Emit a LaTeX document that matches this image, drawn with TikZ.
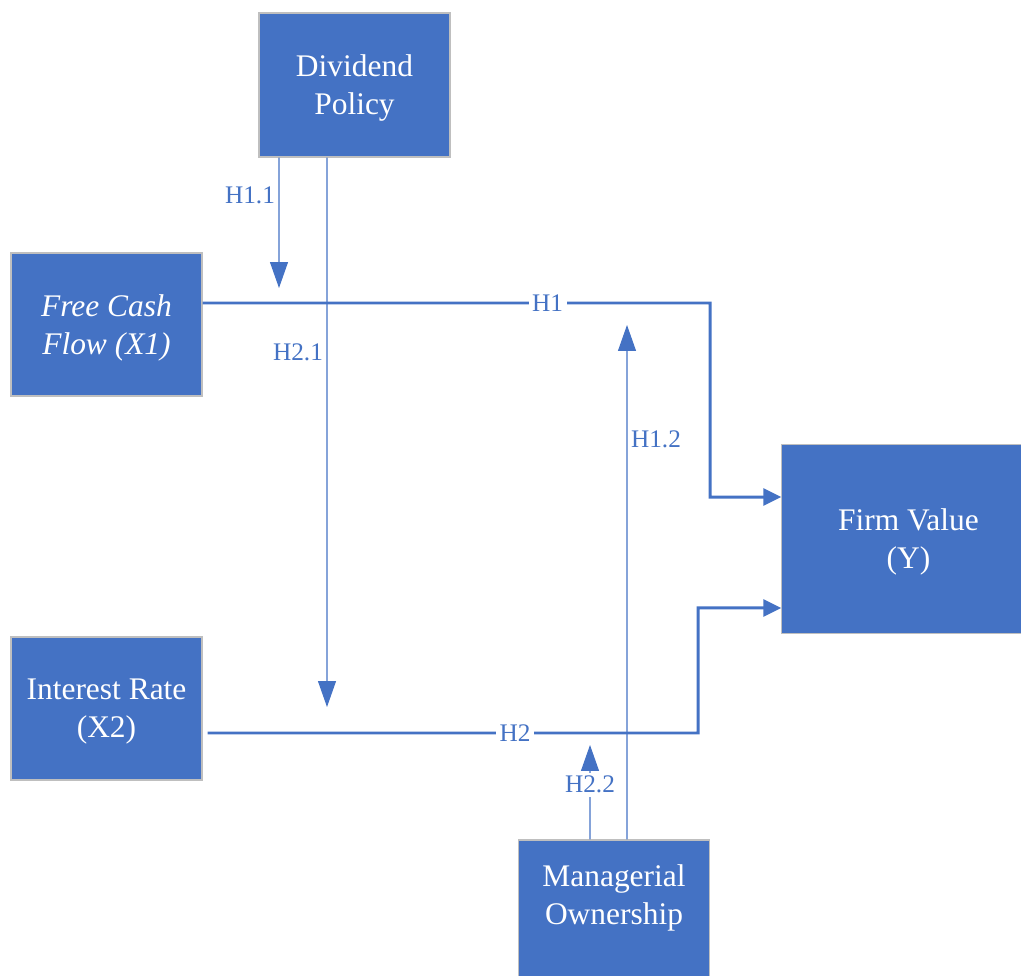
\documentclass[tikz,border=0pt]{standalone}
\usepackage{fontspec}
\setmainfont{Liberation Serif}
\usetikzlibrary{arrows.meta, positioning}
\definecolor{BoxBlue}{HTML}{4472C4}
\definecolor{EdgeGray}{HTML}{BFBFBF}

\begin{document}
\begin{tikzpicture}[x=0.02cm, y=-0.02cm,
    box/.style={rectangle, draw=EdgeGray, line width=0.8pt, fill=BoxBlue, text=white,
                minimum width=3.82cm, minimum height=2.88cm, align=center, inner sep=0pt,
                text depth=0pt, font=\fontsize{17.9}{21.6}\selectfont},
    mainline/.style={-{Triangle[length=0.36cm, width=0.34cm]}, line width=1.7pt, color=BoxBlue},
    modline/.style={-{Triangle[length=0.52cm, width=0.36cm]}, line width=0.6pt, color=BoxBlue},
    hlabel/.style={font=\fontsize{14.4}{16}\selectfont, text=BoxBlue, inner sep=2pt}
]
    \useasboundingbox (0,0) rectangle (1021,976);
    \clip (0,0) rectangle (1021,976);
    \node[box] (div) at (354.5,85) {Dividend\\Policy};
    \node[box, minimum height=2.86cm, font=\fontsize{17.9}{21.6}\selectfont\itshape] (fcf) at (106.5,324.5) {Free Cash\\Flow (X1)};
    \node[box, minimum height=2.86cm] (ir) at (106.5,708.5) {Interest Rate\\(X2)};
    \node[box, draw=none, minimum width=5.06cm, minimum height=3.76cm] (fv) at (908.5,539) {Firm Value\\(Y)};
    \draw[EdgeGray, line width=0.8pt] (fv.north east) -| (fv.south west) -- (fv.south east);
    \node[box, text depth=0.70cm] (mo) at (614,912) {Managerial\\Ownership};
    % bends and free arrow ends
    \coordinate (h1corner) at (710,303);
    \coordinate (h2corner) at (698,733);
    \coordinate (h11tip) at (279,288);
    \coordinate (h21tip) at (327,707);
    \coordinate (h12tip) at (627,325);
    \coordinate (h22tip) at (590,745);
    \draw[modline] ([xshift=-1.51cm]div.south) -- node[hlabel, left, pos=0.29] {H1.1} (h11tip);
    \draw[modline] ([xshift=-0.55cm]div.south) -- node[hlabel, left, pos=0.355] {H2.1} (h21tip);
    \draw[modline] ([xshift=0.26cm]mo.north) -- node[hlabel, right, pos=0.777] {H1.2} (h12tip);
    \draw[modline] ([xshift=-0.48cm]mo.north) -- node[hlabel, fill=white, pos=0.58] {H2.2} (h22tip);
    \draw[mainline] ([yshift=0.43cm]fcf.east) -- node[hlabel, fill=white, pos=0.68] {H1} (h1corner)
        |- ([yshift=0.84cm]fv.west);
    \draw[mainline] ([xshift=0.1cm, yshift=-0.49cm]ir.east) -- node[hlabel, fill=white, pos=0.627] {H2} (h2corner)
        |- ([yshift=-1.38cm]fv.west);
\end{tikzpicture}
\end{document}
